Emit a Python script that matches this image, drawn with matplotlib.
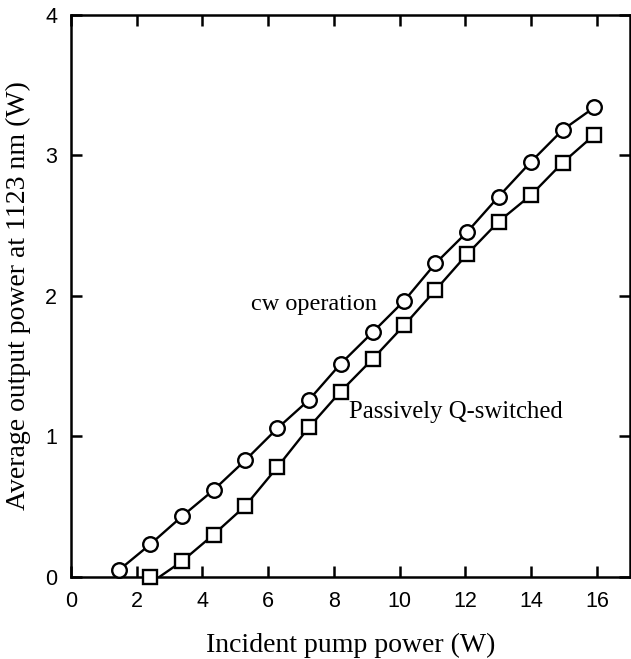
import matplotlib
matplotlib.use("Agg")
import matplotlib.pyplot as plt

# incident pump power (W)
pump_cw = [1.45, 2.41, 3.38, 4.34, 5.30, 6.28, 7.24, 8.20, 9.18, 10.14,
           11.09, 12.06, 13.01, 14.00, 14.96, 15.92]
power_cw = [0.045, 0.23, 0.43, 0.617, 0.828, 1.056, 1.258, 1.514, 1.74, 1.964,
            2.23, 2.455, 2.705, 2.954, 3.18, 3.34]

pump_qs = [2.41, 3.38, 4.34, 5.30, 6.28, 7.24, 8.20, 9.18, 10.14,
           11.09, 12.06, 13.01, 14.00, 14.96, 15.92]
power_qs = [0.0, 0.11, 0.30, 0.503, 0.78, 1.063, 1.317, 1.55, 1.79,
            2.04, 2.297, 2.527, 2.717, 2.947, 3.144]

# the Q-switched line starts at threshold, not at the first square
qs_threshold = 2.70

xticks = [0, 2, 4, 6, 8, 10, 12, 14, 16]
yticks = [0, 1, 2, 3, 4]

serif = ['Liberation Serif', 'DejaVu Serif']
sans = ['Liberation Sans', 'DejaVu Sans']

fig = plt.figure(figsize=(6.31, 6.59), dpi=100)
ax = fig.add_axes([0.1125, 0.1249, 0.8855, 0.8528])

# lines
ax.plot(pump_cw, power_cw, color='black', lw=1.7, zorder=2)
ax.plot([qs_threshold] + pump_qs[1:], [0.0] + power_qs[1:], color='black', lw=1.7, zorder=2)

# markers
ax.plot(pump_cw, power_cw, ls='none', marker='o', ms=10.5, mfc='white',
        mec='black', mew=1.7, zorder=3, clip_on=False)
ax.plot(pump_qs, power_qs, ls='none', marker='s', ms=9.5, mfc='white',
        mec='black', mew=1.7, zorder=3, clip_on=False)

ax.text(5.48, 1.90, 'cw operation', fontsize=17.5, family=serif)
ax.text(8.45, 1.13, 'Passively Q-switched', fontsize=17.8, family=serif)

ax.set_xlim(0, 17)
ax.set_ylim(0, 4)
ax.set_xticks(xticks)
ax.set_yticks(yticks)
ax.tick_params(direction='in', length=8, width=1.8, top=True, right=True,
               labelsize=15.5, pad=10)
for lab in ax.get_xticklabels() + ax.get_yticklabels():
    lab.set_family(sans)
for sp in ax.spines.values():
    sp.set_linewidth(1.8)

ax.set_xlabel('Incident pump power (W)', fontsize=20, family=serif, labelpad=15)
ax.set_ylabel('Average output power at 1123 nm (W)', fontsize=20, family=serif, labelpad=10)

fig.savefig('out.png', dpi=100)
